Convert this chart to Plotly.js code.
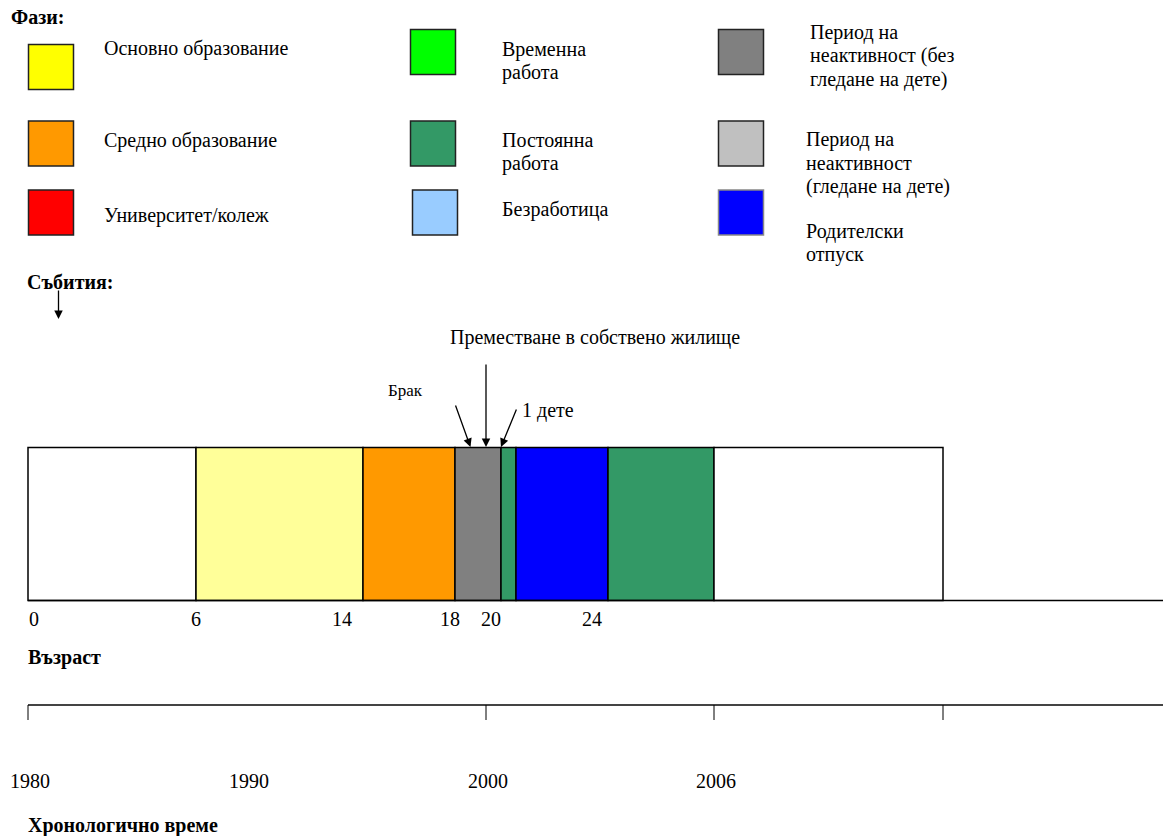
<!DOCTYPE html>
<html>
<head>
<meta charset="utf-8">
<script src="https://cdn.plot.ly/plotly-3.0.1.min.js"></script>
<style>html,body{margin:0;padding:0;background:#fff;}#chart{width:1163px;height:836px;}</style>
</head>
<body>
<div id="chart"></div>
<script>
// ---- Diagram data (positions are in diagram units along the life course line) ----
// Phases legend (each entry is a list of text lines)
const phaseNames = [
  ['Основно образование'], ['Средно образование'], ['Университет/колеж'],
  ['Временна', 'работа'], ['Постоянна', 'работа'], ['Безработица'],
  ['Период на', 'неактивност (без', 'гледане на дете)'], ['Период на', 'неактивност', '(гледане на дете)'], ['Родителски', 'отпуск']
];
const phaseColors = ['#FFFF00', '#FF9900', '#FF0000', '#00FF00', '#339966', '#99CCFF', '#808080', '#C0C0C0', '#0000FF'];
const phaseCol = [0, 0, 0, 1, 1, 1, 2, 2, 2];
const phaseRow = [0, 1, 2, 0, 1, 2, 0, 1, 2];

// Life course bar segments
const segStart = [28, 196, 363, 455, 501, 516, 608, 714];
const segEnd   = [196, 363, 455, 501, 516, 608, 714, 943];
const segColors = ['#FFFFFF', '#FFFF99', '#FF9900', '#808080', '#339966', '#0000FF', '#339966', '#FFFFFF'];

// Age tick labels
const ageLabels = ['0', '6', '14', '18', '20', '24'];
const agePos    = [34, 196, 342, 450, 491, 592];

// Chronological time
const yearLabels = ['1980', '1990', '2000', '2006'];
const yearPos    = [30, 249, 488, 716];
const yearTicks  = [28, 486, 714, 943];

// Events
const eventLabels = ['Брак', 'Преместване в собствено жилище', '1 дете'];
const eventPos    = [470.5, 486, 501];
const eventTailX  = [455, 486, 517];
const eventTailY  = [404, 363, 408];

// ---- Layout geometry ----
const W = 1163, H = 836;
const colBoxX = [51, 433, 741];
const rowBoxYcol = [[67, 143.5, 212.5], [52, 143.5, 212.5], [52, 143.5, 212.5]];
const colTextX = [[102, 102, 102], [500, 500, 500], [808, 804, 804]];
const textFirstY = [[48, 140, 215], [49, 140, 209], [32, 139, 231]];
const LINE = 23.5;

const FONT = 'Liberation Serif, Times New Roman, serif';
const traces = [];
const annotations = [];

// Legend boxes
traces.push({
  type: 'scatter', mode: 'markers',
  x: phaseCol.map((c, i) => colBoxX[c] + (c === 1 && phaseRow[i] === 2 ? 2 : 0)),
  y: phaseCol.map((c, i) => rowBoxYcol[c][phaseRow[i]]),
  marker: { symbol: 'square', size: 45, color: phaseColors,
            line: { color: phaseColors.map(c => c === '#0000FF' ? '#888' : '#222'), width: 1.5 } },
  hoverinfo: 'skip', showlegend: false
});
phaseNames.forEach((lines, i) => {
  const c = phaseCol[i], r = phaseRow[i];
  lines.forEach((ln, k) => annotations.push({
    x: colTextX[c][r], y: textFirstY[c][r] + k * LINE, xref: 'x', yref: 'y',
    text: ln, showarrow: false, xanchor: 'left', yanchor: 'middle', align: 'left',
    font: { family: FONT, size: 20, color: '#000' }
  }));
});

// Life course bar
traces.push({
  type: 'bar', orientation: 'h',
  y: segStart.map(() => 524), base: segStart, x: segStart.map((s, i) => segEnd[i] - s),
  width: segStart.map(() => 153),
  marker: { color: segColors, line: { color: '#000', width: 1.5 } },
  hoverinfo: 'skip', showlegend: false
});

// Age base line
traces.push({
  type: 'scatter', mode: 'lines', x: [segStart[0], W], y: [600.5, 600.5],
  line: { color: '#000', width: 1.5 }, hoverinfo: 'skip', showlegend: false
});

// Age labels
traces.push({
  type: 'scatter', mode: 'text', x: agePos, y: agePos.map(() => 621), text: ageLabels,
  textfont: { family: FONT, size: 20, color: '#000' }, textposition: 'middle center',
  hoverinfo: 'skip', showlegend: false
});

// Chronological time line and ticks
traces.push({
  type: 'scatter', mode: 'lines', x: [yearTicks[0], W], y: [705, 705],
  line: { color: '#444', width: 2 }, hoverinfo: 'skip', showlegend: false
});
const tx = [], ty = [];
yearTicks.forEach(t => { tx.push(t, t, null); ty.push(705, 720, null); });
traces.push({
  type: 'scatter', mode: 'lines', x: tx, y: ty,
  line: { color: '#000', width: 1 }, hoverinfo: 'skip', showlegend: false
});
traces.push({
  type: 'scatter', mode: 'text', x: yearPos, y: yearPos.map(() => 783), text: yearLabels,
  textfont: { family: FONT, size: 20, color: '#000' }, textposition: 'middle center',
  hoverinfo: 'skip', showlegend: false
});

// Headings
const headings = [
  { t: 'Фази:', x: 9, y: 17 },
  { t: 'Събития:', x: 25, y: 282 },
  { t: 'Възраст', x: 26, y: 657 },
  { t: 'Хронологично време', x: 26, y: 825 }
];
headings.forEach(h => annotations.push({
  x: h.x, y: h.y, xref: 'x', yref: 'y', text: '<b>' + h.t + '</b>', showarrow: false,
  xanchor: 'left', yanchor: 'middle', font: { family: FONT, size: 20, color: '#000' }
}));
// Events arrow under heading
annotations.push({
  x: 58.5, y: 319, ax: 58.5, ay: 289, xref: 'x', yref: 'y', axref: 'x', ayref: 'y',
  text: '', showarrow: true, arrowhead: 2, arrowsize: 1.3, arrowwidth: 1.3, arrowcolor: '#000'
});

// Event arrows
eventLabels.forEach((e, i) => annotations.push({
  x: eventPos[i], y: 447, ax: eventTailX[i], ay: eventTailY[i], xref: 'x', yref: 'y', axref: 'x', ayref: 'y',
  text: '', showarrow: true, arrowhead: 2, arrowsize: 1.3, arrowwidth: 1.3, arrowcolor: '#000'
}));
// Event labels
annotations.push({ x: 405, y: 390, xref: 'x', yref: 'y', text: eventLabels[0], showarrow: false,
  xanchor: 'center', yanchor: 'middle', font: { family: FONT, size: 17, color: '#000' } });
annotations.push({ x: 595, y: 337, xref: 'x', yref: 'y', text: eventLabels[1], showarrow: false,
  xanchor: 'center', yanchor: 'middle', font: { family: FONT, size: 20, color: '#000' } });
annotations.push({ x: 520, y: 410, xref: 'x', yref: 'y', text: eventLabels[2], showarrow: false,
  xanchor: 'left', yanchor: 'middle', font: { family: FONT, size: 20, color: '#000' } });

const layout = {
  width: W, height: H,
  margin: { l: 0, r: 0, t: 0, b: 0, pad: 0 },
  paper_bgcolor: '#fff', plot_bgcolor: '#fff',
  xaxis: { range: [0, W], visible: false, fixedrange: true },
  yaxis: { range: [H, 0], visible: false, fixedrange: true },
  showlegend: false, bargap: 0,
  annotations: annotations
};
Plotly.newPlot('chart', traces, layout, { staticPlot: true });
</script>
</body>
</html>
